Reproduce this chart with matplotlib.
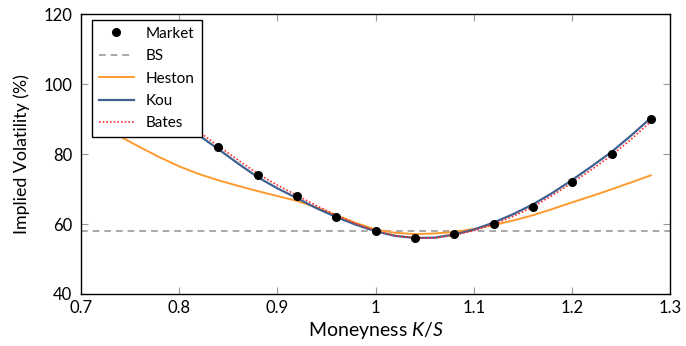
"""Implied volatility smile: market quotes vs BS, Heston, Kou and Bates fits."""

import matplotlib

matplotlib.use("Agg")

import matplotlib.pyplot as plt

plt.rcParams["font.family"] = ["Lato", "DejaVu Sans"]
plt.rcParams["mathtext.fontset"] = "custom"
plt.rcParams["mathtext.it"] = "Lato:italic"
plt.rcParams["mathtext.rm"] = "Lato"

# market quotes
market_k = [0.84, 0.88, 0.92, 0.96, 1.00, 1.04, 1.08, 1.12, 1.16, 1.20, 1.24, 1.28]
market_iv = [82, 74, 68, 62, 58, 56, 57, 60, 65, 72, 80, 90]

grid_k = [0.72, 0.74, 0.76, 0.78, 0.80, 0.82, 0.84, 0.86, 0.88, 0.90,
          0.92, 0.94, 0.96, 0.98, 1.00, 1.02, 1.04, 1.06, 1.08, 1.10,
          1.12, 1.14, 1.16, 1.18, 1.20, 1.22, 1.24, 1.26, 1.28]
heston_iv = [88.3, 85.0, 82.0, 79.1, 76.5, 74.3, 72.5, 70.9, 69.4, 68.0,
             66.6, 64.7, 62.5, 60.3, 58.4, 57.5, 57.1, 57.3, 57.7, 58.6,
             59.7, 61.0, 62.5, 64.3, 66.2, 68.0, 69.9, 71.9, 73.9]
kou_iv = [106.0, 101.8, 97.7, 93.6, 89.6, 85.4, 81.4, 77.3, 73.4, 70.2,
          67.4, 64.5, 62.0, 59.8, 57.9, 56.6, 56.0, 56.1, 57.0, 58.4,
          60.4, 62.8, 65.6, 68.9, 72.6, 76.5, 80.6, 85.3, 90.3]
bates_iv = [107.0, 102.8, 98.7, 94.6, 90.5, 86.4, 82.3, 78.3, 74.4, 71.1,
            68.2, 65.2, 62.5, 60.1, 58.1, 56.7, 56.0, 56.0, 56.8, 58.1,
            59.9, 62.2, 64.9, 68.2, 71.8, 75.6, 79.6, 84.2, 89.3]
bs_iv = 58

fig = plt.figure(figsize=(6.86, 3.46), dpi=100)
ax = fig.add_axes([0.1176, 0.1503, 0.8598, 0.8092])

ax.axhline(bs_iv, color="#999999", ls=(0, (4, 3)), lw=1.2, label="BS", zorder=1)
ax.plot(grid_k, heston_iv, color="#ff9a2e", lw=1.4, label="Heston", zorder=2)
ax.plot(grid_k, kou_iv, color="#3e6191", lw=1.6, label="Kou", zorder=3)
ax.plot(grid_k, bates_iv, color="#ff2a2a", ls=(0, (1, 1.2)), lw=1.2, label="Bates", zorder=4)
ax.plot(market_k, market_iv, "o", color="black", ms=5.5, ls="none", label="Market", zorder=5)

ax.set_xlim(0.7, 1.3)
ax.set_ylim(40, 120)
ax.set_xticks([0.7, 0.8, 0.9, 1.0, 1.1, 1.2, 1.3])
ax.set_xticklabels(["0.7", "0.8", "0.9", "1", "1.1", "1.2", "1.3"])
ax.set_yticks([40, 60, 80, 100, 120])
ax.tick_params(direction="in", top=True, right=True, length=5, color="#999999",
               labelsize=12)
ax.tick_params(axis="y", pad=6)
ax.tick_params(axis="x", pad=4)
for s in ax.spines.values():
    s.set_linewidth(1.0)
ax.set_xlabel("Moneyness $K/S$", fontsize=14, labelpad=3)
ax.set_ylabel("Implied Volatility (%)", fontsize=12.8, labelpad=10)

handles, labels = ax.get_legend_handles_labels()
order = [4, 0, 1, 2, 3]
leg = ax.legend([handles[i] for i in order], [labels[i] for i in order],
                loc="upper left", bbox_to_anchor=(0.019, 0.979), borderaxespad=0,
                fancybox=False, edgecolor="black", framealpha=1, fontsize=11,
                handlelength=2.3, labelspacing=0.55, borderpad=0.45)
leg.get_frame().set_linewidth(1.0)

fig.savefig("out.png", dpi=100)
